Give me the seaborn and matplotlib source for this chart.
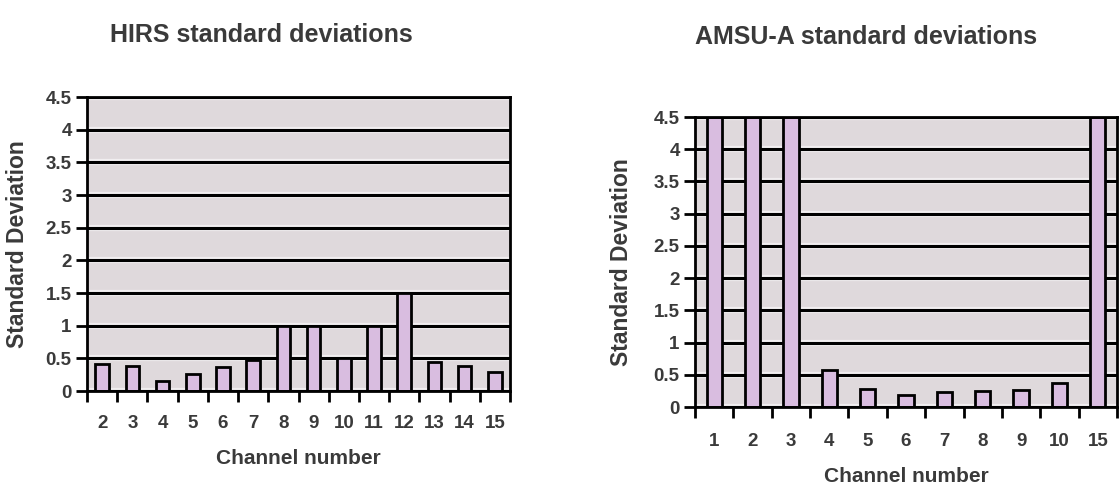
import matplotlib
matplotlib.use("Agg")
import matplotlib.pyplot as plt
import matplotlib.patheffects as pe
from matplotlib.ticker import FuncFormatter, FixedLocator
import pandas as pd
import seaborn as sns

# HIRS channel standard deviations
hirs_channels = ["2", "3", "4", "5", "6", "7", "8", "9", "10", "11", "12", "13", "14", "15"]
hirs_std = [0.42, 0.38, 0.15, 0.26, 0.37, 0.47, 1.0, 1.0, 0.5, 1.0, 1.5, 0.45, 0.38, 0.29]

# AMSU-A channel standard deviations (channels 1-3 and 15 run off the top of the scale)
amsu_channels = ["1", "2", "3", "4", "5", "6", "7", "8", "9", "10", "15"]
amsu_std = [4.5, 4.5, 4.5, 0.58, 0.28, 0.19, 0.23, 0.25, 0.27, 0.37, 4.5]

y_ticks = [0, 0.5, 1, 1.5, 2, 2.5, 3, 3.5, 4, 4.5]

sns.set_theme(style="white")
plt.rcParams["font.family"] = ["Liberation Sans", "DejaVu Sans"]

TEXT = "#3a3a3a"
PLOT_BG = "#dfd9dc"
BAR = "#d9bde0"

W, H = 1119, 488
fig = plt.figure(figsize=(W / 100, H / 100), dpi=100)
fig.patch.set_facecolor("white")


def px_axes(x0, x1, y_top, y_bot):
    return fig.add_axes([x0 / W, 1 - y_bot / H, (x1 - x0) / W, (y_bot - y_top) / H])


def draw_panel(ax, channels, values, bar_width, tick_pad, xlabel_y, ylabel_x):
    df = pd.DataFrame({"channel": channels, "std": values})
    ax.set_facecolor(PLOT_BG)
    ax.set_axisbelow(True)
    sns.barplot(data=df, x="channel", y="std", order=channels, color=BAR,
                saturation=1, edgecolor="black", linewidth=2, width=bar_width, ax=ax)
    n = len(channels)
    ax.set_xlim(-0.5, n - 0.5)
    ax.set_ylim(0, 4.5)

    ax.yaxis.set_major_locator(FixedLocator(y_ticks))
    ax.yaxis.set_major_formatter(FuncFormatter(lambda v, p: f"{v:g}"))
    ax.grid(axis="y", color="black", linewidth=2.2)
    for gl in ax.get_ygridlines():
        gl.set_path_effects([pe.Stroke(linewidth=4.5, foreground="#f1eef0"), pe.Normal()])
    ax.grid(axis="x", visible=False)

    ax.xaxis.set_minor_locator(FixedLocator([i - 0.5 for i in range(n + 1)]))
    ax.tick_params(axis="x", which="major", length=0, pad=tick_pad,
                   labelsize=13.5, labelcolor=TEXT)
    ax.tick_params(axis="x", which="minor", length=8, width=2, color="black",
                   direction="out", bottom=True)
    ax.tick_params(axis="y", which="major", length=8, width=2, color="black",
                   direction="out", left=True, pad=3, labelsize=13.5, labelcolor=TEXT)
    for lab in ax.get_xticklabels() + ax.get_yticklabels():
        lab.set_fontweight("bold")

    for s in ax.spines.values():
        s.set_visible(True)
        s.set_color("black")
        s.set_linewidth(2)

    ax.set_xlabel("Channel number", fontsize=15, fontweight="bold", color=TEXT, va="center")
    ax.xaxis.set_label_coords(0.5, xlabel_y)
    ax.set_ylabel("Standard Deviation", fontsize=16.5, fontweight="bold", color=TEXT, va="center")
    ax.yaxis.set_label_coords(ylabel_x, 0.5)


ax1 = px_axes(87, 510, 97, 391)
draw_panel(ax1, hirs_channels, hirs_std, 0.45, 17, (391 - 458) / 294, (18 - 87) / 423)

ax2 = px_axes(695, 1117, 117, 407)
draw_panel(ax2, amsu_channels, amsu_std, 0.40, 19, (407 - 476) / 290, (622 - 695) / 422)

fig.text(261 / W, 1 - 35 / H, "HIRS standard deviations", ha="center", va="center",
         fontsize=18, fontweight="bold", color=TEXT)
fig.text(866 / W, 1 - 37 / H, "AMSU-A standard deviations", ha="center", va="center",
         fontsize=18, fontweight="bold", color=TEXT)

fig.savefig("out.png", dpi=100)
